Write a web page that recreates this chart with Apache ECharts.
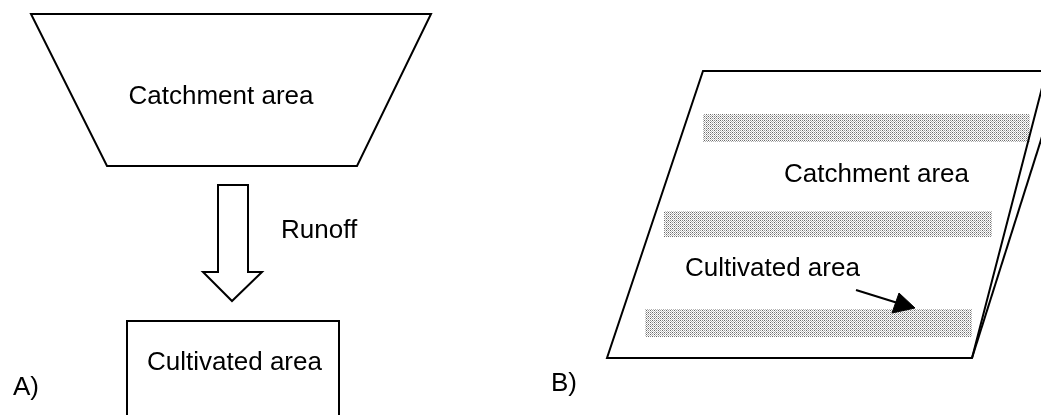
<!DOCTYPE html>
<html><head><meta charset="utf-8">
<script src="https://cdn.jsdelivr.net/npm/echarts@6/dist/echarts.min.js"></script>
<style>html,body{margin:0;padding:0;background:#fff}#c{width:1041px;height:415px}</style>
</head><body><div id="c"></div>
<script>
// Diagram units on hidden axes: x 0..1041, y 0..415 (y increases downward)
const catchmentA = [[31,14],[431,14],[357,166],[107,166]];          // trapezoid (closed)
const runoffArrow = [[218,185],[248,185],[248,272],[262,272],[232,301],[203,272],[218,272]]; // closed
const cultivatedA = [[127,440],[127,321],[339,321],[339,440]];      // box, open at bottom edge
const slopeB = [[1100,71],[703,71],[607,358],[972,358],[1046.4,71]]; // sloping field outline
const foldB = [[972,358],[1062.8,71]];
const arrowBLine = [[856,290],[901,304]];
const arrowBHead = [[915,308],[899,293],[892,313]];
const strips = [[703,114,1030,142],[664,211,992,237],[645,309,972,337]]; // x0,y0,x1,y1
const textLabels = ['Catchment area','Runoff','Cultivated area','A)','Catchment area','Cultivated area','B)'];
const textX = [221,281,234.5,13,876.5,685,577];
const textY = [96.5,230.5,362.5,387.5,175,269,384];
const textAnchor = ['center','left','center','left','center','left','right'];

const outlines = [
  {pts: catchmentA, closed: true},
  {pts: runoffArrow, closed: true},
  {pts: cultivatedA, closed: false},
  {pts: slopeB, closed: false},
  {pts: foldB, closed: false},
  {pts: arrowBLine, closed: false}
];

// stipple pattern for cultivated strips
const pc = document.createElement('canvas');
pc.width = 4; pc.height = 4;
const g = pc.getContext('2d');
g.fillStyle = '#ffffff'; g.fillRect(0,0,4,4);
const dots = [[0,0,'#666'],[2,0,'#888'],[1,1,'#bbb'],[3,1,'#aaa'],[0,2,'#999'],[2,2,'#666'],[1,3,'#ccc'],[3,3,'#bbb']];
dots.forEach(d => { g.fillStyle = d[2]; g.fillRect(d[0], d[1], 1, 1); });

const FONT = '26px "Liberation Sans", Arial, sans-serif';

const chart = echarts.init(document.getElementById('c'), null, {renderer: 'canvas'});
chart.setOption({
  animation: false,
  backgroundColor: '#ffffff',
  grid: {left: 0, right: 0, top: 0, bottom: 0},
  xAxis: {type: 'value', min: 0, max: 1041, show: false},
  yAxis: {type: 'value', min: 0, max: 415, inverse: true, show: false},
  series: [
    {
      type: 'custom', clip: false, silent: true,
      data: strips.map(s => [s[0], s[1], s[2], s[3]]),
      renderItem: (params, api) => {
        const p0 = api.coord([api.value(0), api.value(1)]);
        const p1 = api.coord([api.value(2), api.value(3)]);
        return {type: 'rect', shape: {x: p0[0], y: p0[1], width: p1[0]-p0[0], height: p1[1]-p0[1]},
          style: {fill: {image: pc, repeat: 'repeat'}}};
      }
    },
    {
      type: 'custom', clip: false, silent: true,
      data: outlines.map((o, i) => [o.pts[0][0], o.pts[0][1], i]),
      renderItem: (params, api) => {
        const o = outlines[params.dataIndex];
        return {type: o.closed ? 'polygon' : 'polyline',
          shape: {points: o.pts.map(p => api.coord(p))},
          style: {stroke: '#000', lineWidth: 2, fill: o.closed ? '#fff' : null, lineJoin: 'miter'}};
      }
    },
    {
      type: 'custom', clip: false, silent: true,
      data: [[arrowBHead[0][0], arrowBHead[0][1]]],
      renderItem: (params, api) => ({type: 'polygon',
        shape: {points: arrowBHead.map(p => api.coord(p))},
        style: {fill: '#000', stroke: '#000', lineWidth: 1}})
    },
    {
      type: 'custom', clip: false, silent: true,
      data: textLabels.map((t, i) => [textX[i], textY[i], i]),
      renderItem: (params, api) => {
        const i = params.dataIndex;
        const p = api.coord([api.value(0), api.value(1)]);
        return {type: 'text', x: p[0], y: p[1],
          style: {text: textLabels[i], font: FONT, fill: '#000', align: textAnchor[i], verticalAlign: 'middle'}};
      }
    }
  ]
});
</script>
</body></html>
